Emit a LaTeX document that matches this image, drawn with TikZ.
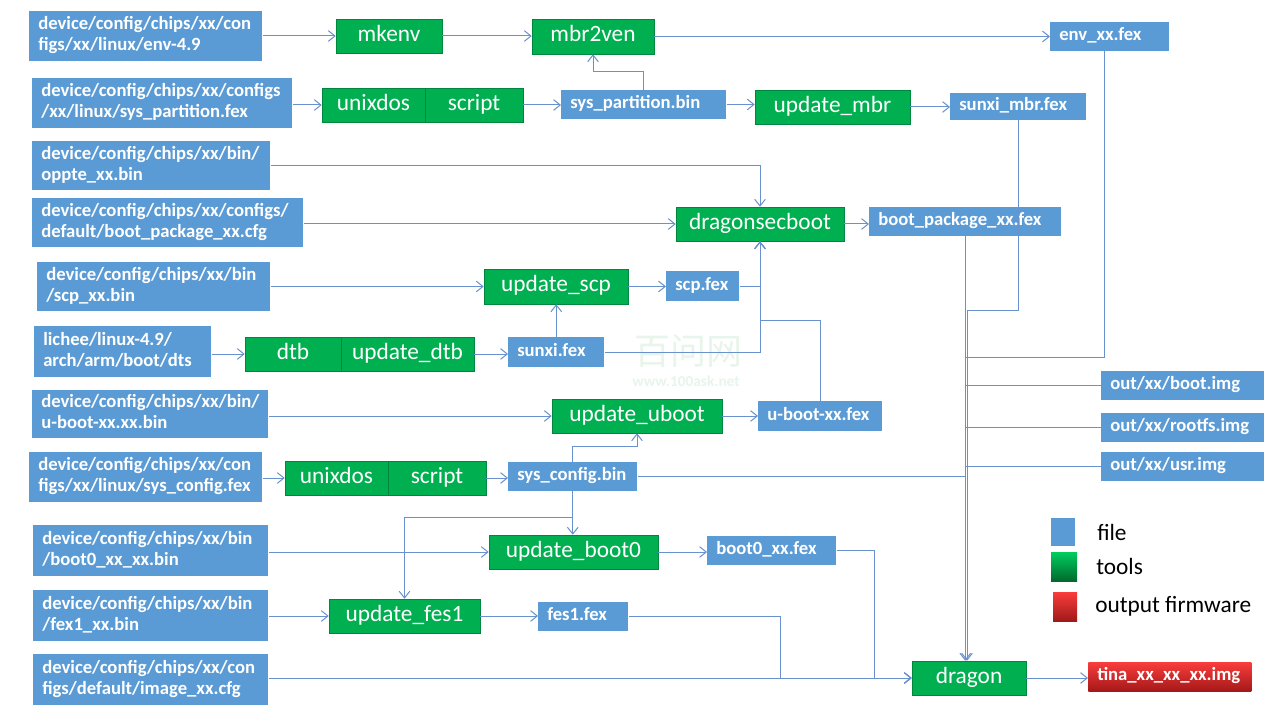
\documentclass[tikz,border=0pt]{standalone}
\usepackage{fontspec}
\setmainfont{Carlito}
\newfontfamily\cjkwm{Noto Sans CJK SC}
\usetikzlibrary{arrows.meta}

\definecolor{fileblue}{RGB}{91,155,213}
\definecolor{toolgreen}{RGB}{0,176,80}
\definecolor{tooledge}{RGB}{0,135,62}
\definecolor{linkblue}{RGB}{105,145,205}
\definecolor{wmgreen}{RGB}{232,245,234}
\newcommand\fxfile{\fontsize{14}{16}\selectfont\bfseries}
\newcommand\fxtool{\fontsize{17.5}{20}\selectfont}
\newcommand\fxleg{\fontsize{17.5}{20}\selectfont}

\begin{document}
\begin{tikzpicture}[x=0.75pt,y=-0.75pt,
  src/.style n args={2}{fill=fileblue, text=white, font=\fxfile, anchor=west,
    align=left, inner xsep=6.75pt, inner ysep=0pt,
    text width={(#1-18)*0.75pt}, minimum height=#2*0.75pt,
    execute at begin node={\strut}, execute at end node={\strut}},
  tool/.style n args={2}{fill=toolgreen, draw=tooledge, line width=0.4pt,
    text=white, font=\fxtool, inner sep=0pt,
    minimum width=#1*0.75pt, minimum height=#2*0.75pt,
    execute at begin node={\strut}},
  outimg/.style n args={2}{src={#1}{#2}, fill=none, top color={rgb,255:red,250;green,60;blue,60},
    bottom color={rgb,255:red,165;green,25;blue,25}},
  arr/.style={draw=linkblue, line width=0.75pt,
    -{Straight Barb[length=5pt,width=8pt]}},
  ln/.style={draw=linkblue, line width=0.75pt},
  legtext/.style={anchor=west, font=\fxleg, text=black, inner sep=0pt}
]
\useasboundingbox (0,0) rectangle (1280,720);
\fill[white] (0,0) rectangle (1280,720);

% watermark
\node[text=wmgreen, font=\cjkwm\fontsize{27}{27}\selectfont, inner sep=0pt] (wm1) at (688,351) {百问网};
\node[text=wmgreen, font=\bfseries\fontsize{11.5}{12}\selectfont, inner sep=0pt] (wm2) at (686,381) {www.100ask.net};

% source files (left column)
\node[src={233}{50}] (L1) at (29,36) {device/config/chips/xx/con\\figs/xx/linux/env-4.9};
\node[src={260}{50}] (L2) at (32,103) {device/config/chips/xx/configs\\/xx/linux/sys\_partition.fex};
\node[src={238}{49}] (L3) at (32,165.5) {device/config/chips/xx/bin/\\oppte\_xx.bin};
\node[src={271}{49}] (L4) at (32,222.5) {device/config/chips/xx/configs/\\default/boot\_package\_xx.cfg};
\node[src={233}{49}] (L5) at (37,286.5) {device/config/chips/xx/bin\\/scp\_xx.bin};
\node[src={177}{51}] (L6) at (34,351.5) {lichee/linux-4.9/\\arch/arm/boot/dts};
\node[src={236}{48}] (L7) at (32,414) {device/config/chips/xx/bin/\\u-boot-xx.xx.bin};
\node[src={233}{50}] (L8) at (29,477) {device/config/chips/xx/con\\figs/xx/linux/sys\_config.fex};
\node[src={235}{51}] (L9) at (33,550.5) {device/config/chips/xx/bin\\/boot0\_xx\_xx.bin};
\node[src={235}{51}] (L10) at (33,615.5) {device/config/chips/xx/bin\\/fex1\_xx.bin};
\node[src={235}{51}] (L11) at (33,679.5) {device/config/chips/xx/con\\figs/default/image\_xx.cfg};

% tools
\node[tool={106}{34}] (mkenv) at (389,36) {mkenv};
\node[tool={122}{35}] (mbr) at (593,36.5) {mbr2ven};
\node[tool={103}{34}] (unix2) at (373.5,105) {unixdos};
\node[tool={98}{34}] (script2) at (474,105) {script};
\node[tool={155}{34}] (upmbr) at (832.5,107) {update\_mbr};
\node[tool={168}{34}] (dsb) at (760,224) {dragonsecboot};
\node[tool={144}{35}] (upscp) at (556,286.5) {update\_scp};
\node[tool={96}{34}] (dtb) at (293,354) {dtb};
\node[tool={133}{34}] (updtb) at (407.5,354) {update\_dtb};
\node[tool={170}{34}] (upub) at (637,416) {update\_uboot};
\node[tool={103}{34}] (unix8) at (336.5,478) {unixdos};
\node[tool={98}{34}] (script8) at (437,478) {script};
\node[tool={169}{34}] (upb0) at (573.5,552) {update\_boot0};
\node[tool={151}{34}] (upfes1) at (404.5,616) {update\_fes1};
\node[tool={114}{34}] (dragon) at (969,678) {dragon};

% intermediate files
\node[src={119}{29}] (envfex) at (1050,36.5) {env\_xx.fex};
\node[src={165}{29}] (spbin) at (561,104.5) {sys\_partition.bin};
\node[src={136}{27}] (smbr) at (950,106.5) {sunxi\_mbr.fex};
\node[src={192}{29}] (bpfex) at (869,221.5) {boot\_package\_xx.fex};
\node[src={73}{30}] (scpfex) at (666,286) {scp.fex};
\node[src={96}{30}] (sunxi) at (508,352) {sunxi.fex};
\node[src={124}{30}] (ubfex) at (758,416) {u-boot-xx.fex};
\node[src={129}{29}] (scbin) at (508,476.5) {sys\_config.bin};
\node[src={129}{29}] (b0fex) at (707,550.5) {boot0\_xx.fex};
\node[src={90}{29}] (fes1) at (538,616.5) {fes1.fex};
\node[src={163}{29}] (oboot) at (1101,385.5) {out/xx/boot.img};
\node[src={163}{29}] (orootfs) at (1101,427.5) {out/xx/rootfs.img};
\node[src={163}{29}] (ousr) at (1101,466.5) {out/xx/usr.img};
\node[outimg={163}{29}] (tina) at (1088,676.5) {tina\_xx\_xx\_xx.img};

% legend
\node[fill=fileblue, minimum width=24*0.75pt, minimum height=28*0.75pt, inner sep=0pt] (lgfile) at (1063,532) {};
\node[legtext] (lgfilet) at (1097,532) {file};
\node[top color={rgb,255:red,0;green,205;blue,95}, bottom color={rgb,255:red,0;green,105;blue,45},
  minimum width=26*0.75pt, minimum height=29*0.75pt, inner sep=0pt] (lgtool) at (1064,566.5) {};
\node[legtext] (lgtoolt) at (1096,566.5) {tools};
\node[top color={rgb,255:red,250;green,60;blue,60}, bottom color={rgb,255:red,160;green,25;blue,25},
  minimum width=24*0.75pt, minimum height=29*0.75pt, inner sep=0pt] (lgout) at (1065,606.5) {};
\node[legtext] (lgoutt) at (1095,606.5) {output firmware};

% connectors
\draw[arr] (L1.east) -- (L1.east -| mkenv.west);
\draw[arr] (mkenv.east) -- (mkenv.east -| mbr.west);
\draw[arr] (mbr.east) -- (mbr.east -| envfex.west);
\draw[arr] (L2.east |- unix2.west) -- (unix2.west);
\draw[arr] (script2.east) -- (script2.east -| spbin.west);
\draw[arr] (spbin.north) -- ++(0,-18) -| (mbr.south);
\draw[arr] (spbin.east) -- (spbin.east -| upmbr.west);
\draw[arr] (upmbr.east) -- (upmbr.east -| smbr.west);
\draw[arr] (L3.east) -| (dsb.north);
\draw[arr] (L4.east |- dsb.west) -- (dsb.west);
\draw[arr] (dsb.east) -- (dsb.east -| bpfex.west);
\draw[arr] (L5.east |- upscp.west) -- (upscp.west);
\draw[arr] (upscp.east) -- (upscp.east -| scpfex.west);
\draw[arr] (scpfex.east) -| (dsb.south);
\draw[arr] (sunxi.east) -| (dsb.south);
\draw[arr] (ubfex.north) -- ++(0,-80) -| (dsb.south);
\draw[arr] (sunxi.north) -- (sunxi.north |- upscp.south);
\draw[arr] (L6.east |- dtb.west) -- (dtb.west);
\draw[arr] (updtb.east) -- (updtb.east -| sunxi.west);
\draw[arr] (L7.east |- upub.west) -- (upub.west);
\draw[arr] (upub.east) -- (upub.east -| ubfex.west);
\draw[arr] (L8.east |- unix8.west) -- (unix8.west);
\draw[arr] (script8.east) -- (script8.east -| scbin.west);
\draw[arr] (scbin.north) -- ++(0,-15) -| (upub.south);
\draw[arr] (scbin.south) -- (scbin.south |- upb0.north);
\draw[arr] ([yshift=-19.5pt]scbin.south) -| (upfes1.north);
\draw[ln] (scbin.east) -- (scbin.east -| bpfex.south);
\draw[arr] (bpfex.south) -- (bpfex.south |- dragon.north);
\draw[arr] (smbr.south) -- ++(0,190) -| ([xshift=-1.5pt]dragon.north);
\draw[ln] ([xshift=-4pt]envfex.south) |- (bpfex.south |- 0,357);
\draw[ln] (oboot.west) -- (oboot.west -| bpfex.south);
\draw[ln] (orootfs.west) -- (orootfs.west -| bpfex.south);
\draw[ln] (ousr.west) -- (ousr.west -| bpfex.south);
\draw[arr] (L9.east |- upb0.west) -- (upb0.west);
\draw[arr] (upb0.east) -- (upb0.east -| b0fex.west);
\draw[arr] (b0fex.east) -- ++(38,0) |- (dragon.west);
\draw[arr] (L10.east |- upfes1.west) -- (upfes1.west);
\draw[arr] (upfes1.east) -- (upfes1.east -| fes1.west);
\draw[arr] (fes1.east) -- ++(152,0) |- (dragon.west);
\draw[arr] (L11.east |- dragon.west) -- (dragon.west);
\draw[arr] (dragon.east) -- (dragon.east -| tina.west);
\end{tikzpicture}
\end{document}
